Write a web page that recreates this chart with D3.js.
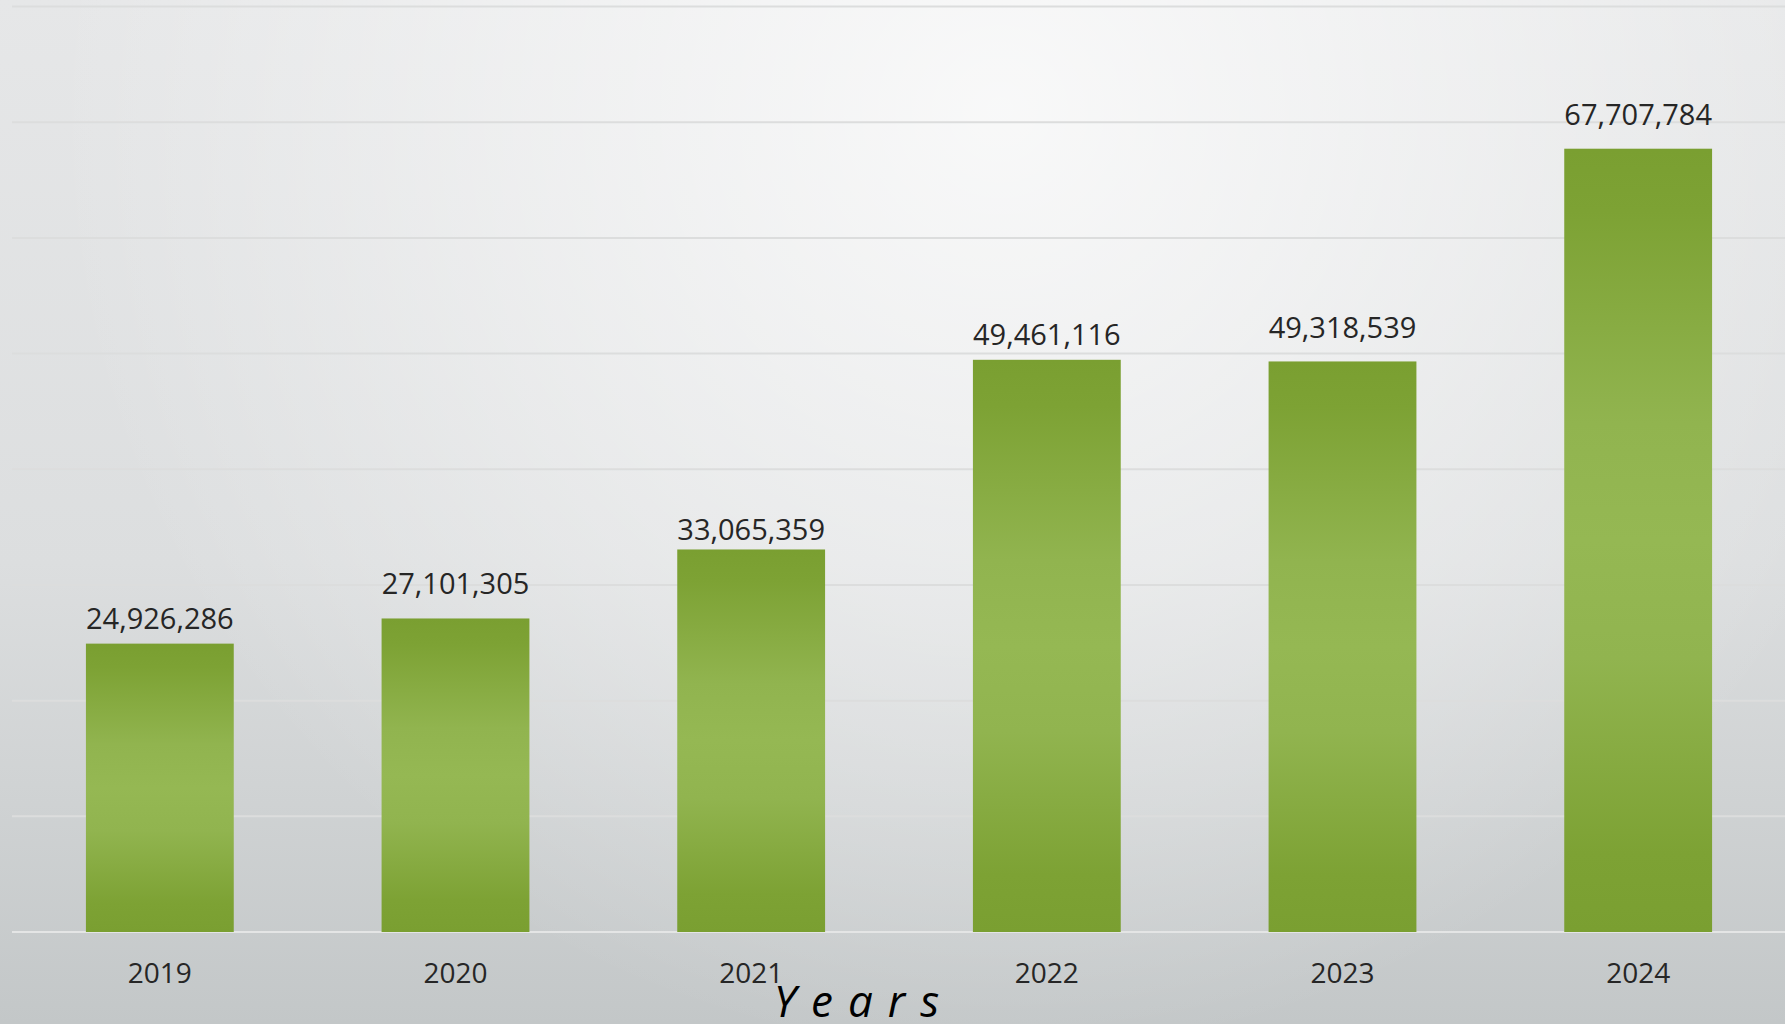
<!DOCTYPE html>
<html>
<head>
<meta charset="utf-8">
<script src="https://cdn.jsdelivr.net/npm/d3@7"></script>
<style>
html,body{margin:0;padding:0;background:#e6e7e8;}
svg{display:block;}
</style>
</head>
<body>
<svg id="chart" width="1785" height="1024"></svg>
<script>
const years = ["2019","2020","2021","2022","2023","2024"];
const values = [24926286, 27101305, 33065359, 49461116, 49318539, 67707784];
const yTicks = [0,10000000,20000000,30000000,40000000,50000000,60000000,70000000,80000000];
const axisTitle = "Years";
// label gap above each bar (pixels), as placed in the original
const labelGaps = [15, 24, 9, 15, 23, 24];

const W = 1785, H = 1024;
const margin = {left: 12, right: -1, top: 6.5, bottom: 92};
const svg = d3.select("#chart");
const defs = svg.append("defs");

const bgBase = defs.append("linearGradient").attr("id","bgBase")
  .attr("x1",0).attr("y1",0).attr("x2",0).attr("y2",1);
bgBase.append("stop").attr("offset","0%").attr("stop-color","#e6e7e8");
bgBase.append("stop").attr("offset","55%").attr("stop-color","#dcdedf");
bgBase.append("stop").attr("offset","100%").attr("stop-color","#c3c7c8");
svg.append("rect").attr("width",W).attr("height",H).attr("fill","url(#bgBase)");

const bgHi = defs.append("radialGradient").attr("id","bgHi")
  .attr("gradientUnits","userSpaceOnUse").attr("cx",1000).attr("cy",110).attr("r",950);
bgHi.append("stop").attr("offset","0%").attr("stop-color","#ffffff").attr("stop-opacity",0.75);
bgHi.append("stop").attr("offset","50%").attr("stop-color","#ffffff").attr("stop-opacity",0.4);
bgHi.append("stop").attr("offset","100%").attr("stop-color","#ffffff").attr("stop-opacity",0);
svg.append("rect").attr("width",W).attr("height",H).attr("fill","url(#bgHi)");

const barGrad = defs.append("linearGradient").attr("id","barGrad")
  .attr("x1",0).attr("y1",0).attr("x2",0).attr("y2",1);
[["0%","#7a9f31"],["8%","#7da234"],["35%","#91b44f"],["50%","#95b853"],["65%","#91b44f"],["90%","#7da234"],["100%","#7a9f31"]]
  .forEach(s => barGrad.append("stop").attr("offset",s[0]).attr("stop-color",s[1]));

const x = d3.scaleBand().domain(years).range([margin.left, W - margin.right]).paddingInner(0.5).paddingOuter(0.25);
const y = d3.scaleLinear().domain([0, 80000000]).range([H - margin.bottom, margin.top]);

// gridlines
svg.append("g").selectAll("line").data(yTicks).join("line")
  .attr("x1", margin.left).attr("x2", W)
  .attr("y1", d => y(d)).attr("y2", d => y(d))
  .attr("stroke", d => d === 0 ? "#e4e5e5" : "#dcdddd").attr("stroke-width", 2);

// bars
svg.append("g").selectAll("rect").data(values).join("rect")
  .attr("x", (d,i) => x(years[i]))
  .attr("width", x.bandwidth())
  .attr("y", d => y(d))
  .attr("height", d => y(0) - y(d))
  .attr("fill", "url(#barGrad)");

// value labels
const fmt = d3.format(",");
svg.append("g").selectAll("text").data(values).join("text")
  .attr("x", (d,i) => x(years[i]) + x.bandwidth()/2)
  .attr("y", (d,i) => y(d) - labelGaps[i])
  .attr("text-anchor","middle")
  .attr("font-family","'Open Sans', sans-serif")
  .attr("font-size", 29)
  .attr("fill","#262626")
  .text(d => fmt(d));

// x axis labels
svg.append("g").selectAll("text").data(years).join("text")
  .attr("x", d => x(d) + x.bandwidth()/2)
  .attr("y", y(0) + 51)
  .attr("text-anchor","middle")
  .attr("font-family","'Open Sans', sans-serif")
  .attr("font-size", 28)
  .attr("fill","#262626")
  .text(d => d);

// axis title
svg.append("text")
  .attr("x", 864).attr("y", 1017)
  .attr("text-anchor","middle")
  .attr("font-family","'Open Sans', sans-serif")
  .attr("font-style","italic")
  .attr("font-size", 44)
  .attr("letter-spacing", "15px")
  .attr("fill","#000")
  .text(axisTitle);
</script>
</body>
</html>
